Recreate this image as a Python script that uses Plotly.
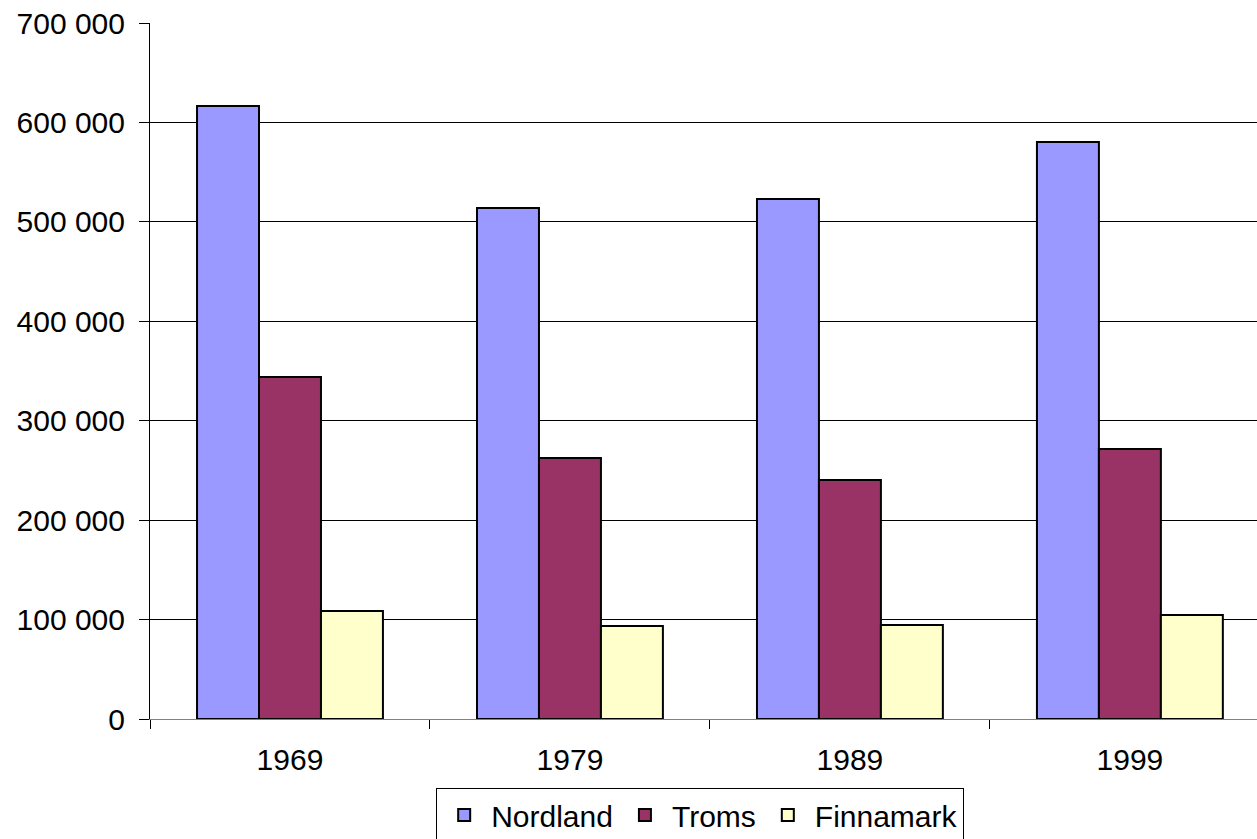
import plotly.graph_objects as go

years = ["1969", "1979", "1989", "1999"]
nordland = [616500, 514000, 523000, 580300]
troms = [344000, 262500, 240400, 271500]
finnamark = [108600, 93500, 94500, 104600]

series = [("Nordland", nordland, "#9999FF"),
          ("Troms", troms, "#993366"),
          ("Finnamark", finnamark, "#FFFFCC")]

fig = go.Figure()
for name, vals, col in series:
    fig.add_trace(go.Bar(x=years, y=vals, name=name,
                         marker=dict(color=col, line=dict(color="black", width=2))))

font = "Liberation Sans, Arial, sans-serif"
fig.update_layout(
    width=1257, height=839,
    margin=dict(l=150, r=0, t=23, b=120, autoexpand=False),
    plot_bgcolor="white", paper_bgcolor="white",
    barmode="group", bargap=0.336, bargroupgap=0,
    separators=", ",
    font=dict(family=font, size=30, color="black"),
    showlegend=True,
    legend=dict(orientation="h", x=0.497, xanchor="center", y=-0.099, yanchor="top",
                bordercolor="black", borderwidth=1, font=dict(size=30),
                itemwidth=44, tracegroupgap=0),
    xaxis=dict(range=[-0.5, 3.454], showline=True, linecolor="#808080", linewidth=1,
               ticks="outside", ticklen=9, tickcolor="black", tickson="boundaries",
               showgrid=False, tickfont=dict(size=30), automargin=False,
               ticklabelstandoff=14),
    yaxis=dict(range=[0, 700000], dtick=100000, tickformat=",d",
               showline=True, linecolor="black", linewidth=1,
               ticks="outside", ticklen=10, tickcolor="black",
               showgrid=True, gridcolor="black", gridwidth=1,
               zeroline=False, tickfont=dict(size=30), ticklabelstandoff=8,
               automargin=False),
)
fig.write_html("out.html", config={"displayModeBar": False},
               post_script="document.body.style.margin='0';document.body.style.overflow='hidden';")
